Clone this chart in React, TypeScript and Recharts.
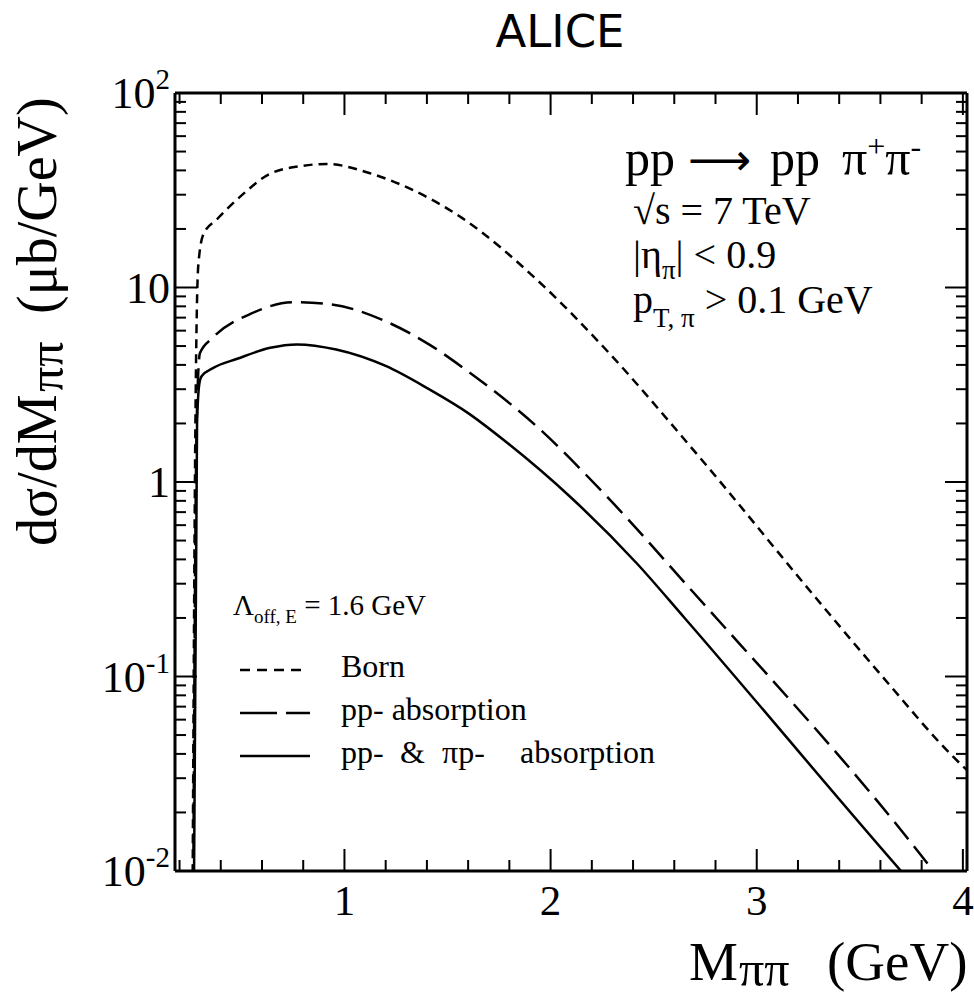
import React from "react";
import { LineChart, Line, XAxis, YAxis, Customized } from "recharts";

// M_pipi (GeV) and dsigma/dM (ub/GeV) for each calculation
const bornMass = [0.262, 0.277, 0.291, 0.316, 0.383, 0.508, 0.638, 0.797, 0.913, 1.12, 1.31, 1.57, 1.94, 2.26, 2.71, 3.31, 3.62, 3.96, 4.02];
const bornXs = [0.004, 2.0, 13, 18.8, 22.5, 30.2, 38.4, 42.2, 43.2, 38.8, 32.5, 22.8, 10.8, 4.9, 1.39, 0.237, 0.097, 0.038, 0.033];

const ppAbsMass = [0.265, 0.283, 0.299, 0.36, 0.555, 0.75, 0.93, 1.2, 1.41, 1.6, 1.94, 2.26, 2.68, 3.85, 3.9];
const ppAbsXs = [0.004, 2.0, 4.6, 5.5, 7.4, 8.4, 8.2, 6.7, 5.1, 3.7, 1.9, 0.87, 0.28, 0.0102, 0.0087];

const fullAbsMass = [0.268, 0.285, 0.296, 0.307, 0.364, 0.48, 0.64, 0.77, 0.96, 1.2, 1.41, 1.6, 1.78, 2.1, 2.42, 2.65, 3.7, 3.75];
const fullAbsXs = [0.004, 2.0, 3.2, 3.5, 3.86, 4.3, 4.9, 5.1, 4.8, 3.95, 3.0, 2.26, 1.62, 0.83, 0.38, 0.2, 0.01, 0.0087];

const xTicks = [0.2, 0.4, 0.6, 0.8, 1, 1.2, 1.4, 1.6, 1.8, 2, 2.2, 2.4, 2.6, 2.8, 3, 3.2, 3.4, 3.6, 3.8, 4];
const xLabels = [1, 2, 3, 4];
const decades = [0.01, 0.1, 1, 10, 100];
const decadeLabels: Record<string, [string, string]> = {
  "0.01": ["10", "-2"],
  "0.1": ["10", "-1"],
  "1": ["1", ""],
  "10": ["10", ""],
  "100": ["10", "2"],
};

const yTicks: number[] = [];
decades.forEach((d) => {
  [1, 2, 3, 4, 5, 6, 7, 8, 9].forEach((m) => {
    if (d * m <= 100.0001) yTicks.push(+(d * m).toPrecision(3));
  });
});

const toPoints = (xs: number[], ys: number[]) => xs.map((x, i) => ({ x, y: ys[i] }));
const born = toPoints(bornMass, bornXs);
const ppAbs = toPoints(ppAbsMass, ppAbsXs);
const fullAbs = toPoints(fullAbsMass, fullAbsXs);

const serif = "'Liberation Serif', 'Times New Roman', serif";
const sans = "'DejaVu Sans', sans-serif";
const isDecade = (v: number) => decades.some((d) => Math.abs(v / d - 1) < 1e-6);
const isMajorX = (v: number) => xLabels.some((d) => Math.abs(v - d) < 1e-6);

const BottomTick = (props: any) => {
  const { x, y, payload } = props;
  const major = isMajorX(payload.value);
  return (
    <g>
      <line x1={x} x2={x} y1={y} y2={y - (major ? 22 : 11)} stroke="#000" strokeWidth={2} />
      {major && (
        <text x={x} y={y + 44} textAnchor="middle" fontFamily={serif} fontSize={43} fill="#000">
          {payload.value}
        </text>
      )}
    </g>
  );
};

const TopTick = (props: any) => {
  const { x, y, payload } = props;
  const major = isMajorX(payload.value);
  return <line x1={x} x2={x} y1={y} y2={y + (major ? 22 : 11)} stroke="#000" strokeWidth={2} />;
};

const LeftTick = (props: any) => {
  const { x, y, payload } = props;
  const major = isDecade(payload.value);
  const lab = decadeLabels[String(payload.value)];
  return (
    <g>
      <line x1={x} x2={x + (major ? 22 : 11)} y1={y} y2={y} stroke="#000" strokeWidth={2} />
      {major && lab && (
        <text x={x - 5} y={y + 15} textAnchor="end" fontFamily={serif} fontSize={44} fill="#000">
          {lab[0]}
          {lab[1] && (
            <tspan fontSize={29} dy={-19}>
              {lab[1]}
            </tspan>
          )}
        </text>
      )}
    </g>
  );
};

const RightTick = (props: any) => {
  const { x, y, payload } = props;
  const major = isDecade(payload.value);
  return <line x1={x} x2={x - (major ? 22 : 11)} y1={y} y2={y} stroke="#000" strokeWidth={2} />;
};

const Annotations = () => (
  <g fill="#000" fontFamily={serif}>
    <text x={560} y={47} textAnchor="middle" fontFamily={sans} fontSize={45}>
      ALICE
    </text>

    {/* process and cuts, top right */}
    <text y={175} fontSize={50}>
      <tspan x={625}>pp</tspan>
      <tspan x={688} fontFamily={sans} fontSize={44}>⟶</tspan>
      <tspan x={770}>pp</tspan>
      <tspan x={842}>π</tspan>
      <tspan dy={-18} fontSize={32}>+</tspan>
      <tspan dy={18}>π</tspan>
      <tspan dy={-18} fontSize={32}>-</tspan>
    </text>
    <text x={633} y={224} fontSize={40}>√s = 7 TeV</text>
    <text x={633} y={268} fontSize={40}>
      |η<tspan dy={11} fontSize={27}>π</tspan>
      <tspan dy={-11}>| &lt; 0.9</tspan>
    </text>
    <text x={633} y={313} fontSize={40}>
      p<tspan dy={14} fontSize={27}>T, π</tspan>
      <tspan dy={-14}> &gt; 0.1 GeV</tspan>
    </text>

    {/* legend */}
    <text x={233} y={615} fontSize={29}>
      Λ<tspan dy={8} fontSize={19}>off, E</tspan>
      <tspan dy={-8}> = 1.6 GeV</tspan>
    </text>
    <line x1={240} x2={305} y1={670} y2={670} stroke="#000" strokeWidth={2.5} strokeDasharray="10 7" />
    <text x={341} y={677} fontSize={32}>Born</text>
    <line x1={240} x2={310} y1={713} y2={713} stroke="#000" strokeWidth={2.5} strokeDasharray="37 9" />
    <text x={341} y={720} fontSize={32}>pp- absorption</text>
    <line x1={240} x2={310} y1={756} y2={756} stroke="#000" strokeWidth={2.5} />
    <text y={763} fontSize={32}>
      <tspan x={341}>pp-</tspan>
      <tspan x={400}>&amp;</tspan>
      <tspan x={442}>πp-</tspan>
      <tspan x={520}>absorption</tspan>
    </text>

    {/* axis titles */}
    <text y={980} fontSize={55}>
      <tspan x={689}>M</tspan>
      <tspan x={739} dy={6} fontSize={50}>ππ</tspan>
      <tspan x={827} dy={-6}>(GeV)</tspan>
    </text>
    <text y={0} fontSize={56} transform="translate(56 546) rotate(-90)">
      <tspan x={0}>dσ/dM</tspan>
      <tspan x={154} dy={7} fontSize={50}>ππ</tspan>
      <tspan x={232} dy={-7}>(μb/GeV)</tspan>
    </text>
  </g>
);

export default function App() {
  return (
    <div style={{ position: "absolute", left: 0, top: 0, width: 974, height: 1002, background: "#fff" }}>
      <LineChart width={974} height={1002} margin={{ top: 0, right: 0, bottom: 0, left: 0 }}>
        <XAxis
          dataKey="x"
          type="number"
          domain={[0.178, 4.02]}
          allowDataOverflow
          ticks={xTicks}
          interval={0}
          height={131}
          tickLine={false}
          tickSize={0}
          tickMargin={0}
          tick={<BottomTick />}
          axisLine={{ stroke: "#000", strokeWidth: 3 }}
        />
        <XAxis
          xAxisId="top"
          orientation="top"
          dataKey="x"
          type="number"
          domain={[0.178, 4.02]}
          allowDataOverflow
          ticks={xTicks}
          interval={0}
          height={93}
          tickLine={false}
          tickSize={0}
          tickMargin={0}
          tick={<TopTick />}
          axisLine={{ stroke: "#000", strokeWidth: 3 }}
        />
        <YAxis
          type="number"
          scale="log"
          domain={[0.01, 100]}
          allowDataOverflow
          ticks={yTicks}
          interval={0}
          width={175}
          tickLine={false}
          tickSize={0}
          tickMargin={0}
          tick={<LeftTick />}
          axisLine={{ stroke: "#000", strokeWidth: 3 }}
        />
        <YAxis
          yAxisId="right"
          orientation="right"
          type="number"
          scale="log"
          domain={[0.01, 100]}
          allowDataOverflow
          ticks={yTicks}
          interval={0}
          width={7}
          tickLine={false}
          tickSize={0}
          tickMargin={0}
          tick={<RightTick />}
          axisLine={{ stroke: "#000", strokeWidth: 3 }}
        />
        <Line data={born} dataKey="y" type="monotone" stroke="#000" strokeWidth={2.5} strokeDasharray="9 6" dot={false} isAnimationActive={false} />
        <Line data={ppAbs} dataKey="y" type="monotone" stroke="#000" strokeWidth={2.5} strokeDasharray="22 9" dot={false} isAnimationActive={false} />
        <Line data={fullAbs} dataKey="y" type="monotone" stroke="#000" strokeWidth={2.5} dot={false} isAnimationActive={false} />
        <Customized component={Annotations} />
      </LineChart>
    </div>
  );
}
